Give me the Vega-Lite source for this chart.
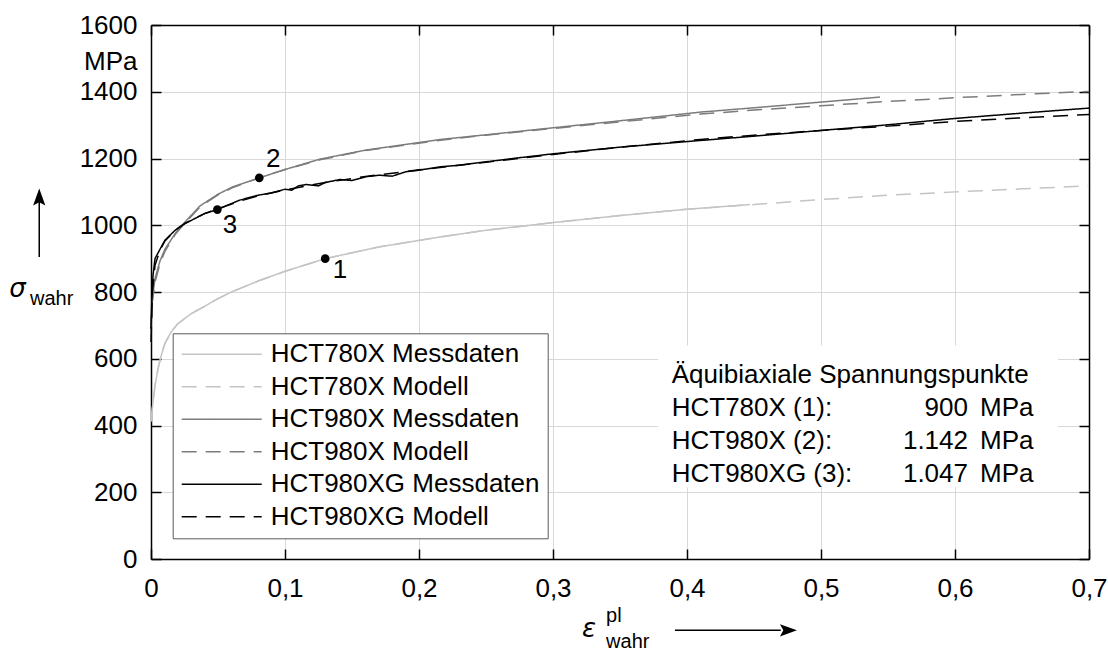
{
  "$schema": "https://vega.github.io/schema/vega-lite/v6.json",
  "width": 938,
  "height": 534,
  "autosize": {"type": "none"},
  "padding": {"left": 151, "top": 25, "right": 19, "bottom": 92},
  "config": {
    "view": {"stroke": null},
    "font": "Liberation Sans",
    "axis": {
      "domainColor": "#000000",
      "domainWidth": 1.5,
      "tickColor": "#000000",
      "tickWidth": 1.5,
      "tickSize": -10,
      "labelFont": "Liberation Sans",
      "labelFontSize": 26,
      "labelColor": "#000000",
      "gridColor": "#d9d9d9",
      "gridWidth": 1,
      "labelFlush": false,
      "labelOverlap": false
    }
  },
  "datasets": {
    "curves": [
      {"e": 0, "s": 412, "series": "HCT780X Messdaten"},
      {"e": 0.0015, "s": 470, "series": "HCT780X Messdaten"},
      {"e": 0.003, "s": 520, "series": "HCT780X Messdaten"},
      {"e": 0.0055, "s": 575, "series": "HCT780X Messdaten"},
      {"e": 0.008, "s": 615, "series": "HCT780X Messdaten"},
      {"e": 0.0104, "s": 646, "series": "HCT780X Messdaten"},
      {"e": 0.015, "s": 680, "series": "HCT780X Messdaten"},
      {"e": 0.02, "s": 705, "series": "HCT780X Messdaten"},
      {"e": 0.03, "s": 735, "series": "HCT780X Messdaten"},
      {"e": 0.04, "s": 757, "series": "HCT780X Messdaten"},
      {"e": 0.05, "s": 780, "series": "HCT780X Messdaten"},
      {"e": 0.06, "s": 800, "series": "HCT780X Messdaten"},
      {"e": 0.08, "s": 833, "series": "HCT780X Messdaten"},
      {"e": 0.1, "s": 862, "series": "HCT780X Messdaten"},
      {"e": 0.13, "s": 900, "series": "HCT780X Messdaten"},
      {"e": 0.17, "s": 935, "series": "HCT780X Messdaten"},
      {"e": 0.216, "s": 965, "series": "HCT780X Messdaten"},
      {"e": 0.25, "s": 985, "series": "HCT780X Messdaten"},
      {"e": 0.3, "s": 1008, "series": "HCT780X Messdaten"},
      {"e": 0.35, "s": 1029, "series": "HCT780X Messdaten"},
      {"e": 0.4, "s": 1048, "series": "HCT780X Messdaten"},
      {"e": 0.447, "s": 1062, "series": "HCT780X Messdaten"},

      {"e": 0, "s": 412, "series": "HCT780X Modell"},
      {"e": 0.0015, "s": 470, "series": "HCT780X Modell"},
      {"e": 0.003, "s": 520, "series": "HCT780X Modell"},
      {"e": 0.0055, "s": 575, "series": "HCT780X Modell"},
      {"e": 0.008, "s": 615, "series": "HCT780X Modell"},
      {"e": 0.0104, "s": 646, "series": "HCT780X Modell"},
      {"e": 0.015, "s": 680, "series": "HCT780X Modell"},
      {"e": 0.02, "s": 705, "series": "HCT780X Modell"},
      {"e": 0.03, "s": 735, "series": "HCT780X Modell"},
      {"e": 0.04, "s": 757, "series": "HCT780X Modell"},
      {"e": 0.05, "s": 780, "series": "HCT780X Modell"},
      {"e": 0.06, "s": 800, "series": "HCT780X Modell"},
      {"e": 0.08, "s": 833, "series": "HCT780X Modell"},
      {"e": 0.1, "s": 862, "series": "HCT780X Modell"},
      {"e": 0.13, "s": 900, "series": "HCT780X Modell"},
      {"e": 0.17, "s": 935, "series": "HCT780X Modell"},
      {"e": 0.216, "s": 965, "series": "HCT780X Modell"},
      {"e": 0.25, "s": 985, "series": "HCT780X Modell"},
      {"e": 0.3, "s": 1008, "series": "HCT780X Modell"},
      {"e": 0.35, "s": 1029, "series": "HCT780X Modell"},
      {"e": 0.4, "s": 1048, "series": "HCT780X Modell"},
      {"e": 0.45, "s": 1062, "series": "HCT780X Modell"},
      {"e": 0.5, "s": 1077, "series": "HCT780X Modell"},
      {"e": 0.55, "s": 1090, "series": "HCT780X Modell"},
      {"e": 0.6, "s": 1100, "series": "HCT780X Modell"},
      {"e": 0.65, "s": 1109, "series": "HCT780X Modell"},
      {"e": 0.7, "s": 1118, "series": "HCT780X Modell"},

      {"e": 0, "s": 700, "series": "HCT980X Messdaten"},
      {"e": 0.001, "s": 780, "series": "HCT980X Messdaten"},
      {"e": 0.003, "s": 840, "series": "HCT980X Messdaten"},
      {"e": 0.0067, "s": 893, "series": "HCT980X Messdaten"},
      {"e": 0.0104, "s": 928, "series": "HCT980X Messdaten"},
      {"e": 0.018, "s": 975, "series": "HCT980X Messdaten"},
      {"e": 0.025, "s": 1008, "series": "HCT980X Messdaten"},
      {"e": 0.0366, "s": 1058, "series": "HCT980X Messdaten"},
      {"e": 0.05, "s": 1093, "series": "HCT980X Messdaten"},
      {"e": 0.061, "s": 1115, "series": "HCT980X Messdaten"},
      {"e": 0.0808, "s": 1142, "series": "HCT980X Messdaten"},
      {"e": 0.1, "s": 1167, "series": "HCT980X Messdaten"},
      {"e": 0.126, "s": 1198, "series": "HCT980X Messdaten"},
      {"e": 0.16, "s": 1225, "series": "HCT980X Messdaten"},
      {"e": 0.216, "s": 1257, "series": "HCT980X Messdaten"},
      {"e": 0.25, "s": 1271, "series": "HCT980X Messdaten"},
      {"e": 0.3, "s": 1292, "series": "HCT980X Messdaten"},
      {"e": 0.35, "s": 1313, "series": "HCT980X Messdaten"},
      {"e": 0.41, "s": 1339, "series": "HCT980X Messdaten"},
      {"e": 0.45, "s": 1352, "series": "HCT980X Messdaten"},
      {"e": 0.5, "s": 1369, "series": "HCT980X Messdaten"},
      {"e": 0.544, "s": 1384, "series": "HCT980X Messdaten"},

      {"e": 0, "s": 690, "series": "HCT980X Modell"},
      {"e": 0.001, "s": 770, "series": "HCT980X Modell"},
      {"e": 0.003, "s": 830, "series": "HCT980X Modell"},
      {"e": 0.0067, "s": 885, "series": "HCT980X Modell"},
      {"e": 0.0104, "s": 922, "series": "HCT980X Modell"},
      {"e": 0.018, "s": 972, "series": "HCT980X Modell"},
      {"e": 0.025, "s": 1005, "series": "HCT980X Modell"},
      {"e": 0.0366, "s": 1055, "series": "HCT980X Modell"},
      {"e": 0.05, "s": 1091, "series": "HCT980X Modell"},
      {"e": 0.061, "s": 1113, "series": "HCT980X Modell"},
      {"e": 0.0808, "s": 1142, "series": "HCT980X Modell"},
      {"e": 0.1, "s": 1167, "series": "HCT980X Modell"},
      {"e": 0.126, "s": 1196, "series": "HCT980X Modell"},
      {"e": 0.16, "s": 1224, "series": "HCT980X Modell"},
      {"e": 0.216, "s": 1255, "series": "HCT980X Modell"},
      {"e": 0.25, "s": 1270, "series": "HCT980X Modell"},
      {"e": 0.3, "s": 1290, "series": "HCT980X Modell"},
      {"e": 0.35, "s": 1310, "series": "HCT980X Modell"},
      {"e": 0.41, "s": 1333, "series": "HCT980X Modell"},
      {"e": 0.45, "s": 1345, "series": "HCT980X Modell"},
      {"e": 0.5, "s": 1358, "series": "HCT980X Modell"},
      {"e": 0.55, "s": 1371, "series": "HCT980X Modell"},
      {"e": 0.6, "s": 1382, "series": "HCT980X Modell"},
      {"e": 0.65, "s": 1392, "series": "HCT980X Modell"},
      {"e": 0.7, "s": 1401, "series": "HCT980X Modell"},

      {"e": 0, "s": 690, "series": "HCT980XG Messdaten"},
      {"e": 0.0005, "s": 760, "series": "HCT980XG Messdaten"},
      {"e": 0.0015, "s": 850, "series": "HCT980XG Messdaten"},
      {"e": 0.003, "s": 900, "series": "HCT980XG Messdaten"},
      {"e": 0.0067, "s": 928, "series": "HCT980XG Messdaten"},
      {"e": 0.0104, "s": 955, "series": "HCT980XG Messdaten"},
      {"e": 0.018, "s": 985, "series": "HCT980XG Messdaten"},
      {"e": 0.0254, "s": 1005, "series": "HCT980XG Messdaten"},
      {"e": 0.04, "s": 1035, "series": "HCT980XG Messdaten"},
      {"e": 0.0495, "s": 1047, "series": "HCT980XG Messdaten"},
      {"e": 0.066, "s": 1075, "series": "HCT980XG Messdaten"},
      {"e": 0.08, "s": 1090, "series": "HCT980XG Messdaten"},
      {"e": 0.09, "s": 1097, "series": "HCT980XG Messdaten"},
      {"e": 0.1, "s": 1108, "series": "HCT980XG Messdaten"},
      {"e": 0.105, "s": 1105, "series": "HCT980XG Messdaten"},
      {"e": 0.11, "s": 1118, "series": "HCT980XG Messdaten"},
      {"e": 0.116, "s": 1122, "series": "HCT980XG Messdaten"},
      {"e": 0.125, "s": 1118, "series": "HCT980XG Messdaten"},
      {"e": 0.13, "s": 1128, "series": "HCT980XG Messdaten"},
      {"e": 0.141, "s": 1137, "series": "HCT980XG Messdaten"},
      {"e": 0.15, "s": 1134, "series": "HCT980XG Messdaten"},
      {"e": 0.16, "s": 1145, "series": "HCT980XG Messdaten"},
      {"e": 0.17, "s": 1150, "series": "HCT980XG Messdaten"},
      {"e": 0.18, "s": 1147, "series": "HCT980XG Messdaten"},
      {"e": 0.19, "s": 1160, "series": "HCT980XG Messdaten"},
      {"e": 0.2, "s": 1165, "series": "HCT980XG Messdaten"},
      {"e": 0.216, "s": 1175, "series": "HCT980XG Messdaten"},
      {"e": 0.23, "s": 1180, "series": "HCT980XG Messdaten"},
      {"e": 0.25, "s": 1190, "series": "HCT980XG Messdaten"},
      {"e": 0.27, "s": 1200, "series": "HCT980XG Messdaten"},
      {"e": 0.3, "s": 1214, "series": "HCT980XG Messdaten"},
      {"e": 0.35, "s": 1234, "series": "HCT980XG Messdaten"},
      {"e": 0.41, "s": 1254, "series": "HCT980XG Messdaten"},
      {"e": 0.45, "s": 1267, "series": "HCT980XG Messdaten"},
      {"e": 0.5, "s": 1284, "series": "HCT980XG Messdaten"},
      {"e": 0.55, "s": 1301, "series": "HCT980XG Messdaten"},
      {"e": 0.6, "s": 1320, "series": "HCT980XG Messdaten"},
      {"e": 0.65, "s": 1336, "series": "HCT980XG Messdaten"},
      {"e": 0.7, "s": 1351, "series": "HCT980XG Messdaten"},

      {"e": 0, "s": 650, "series": "HCT980XG Modell"},
      {"e": 0.001, "s": 800, "series": "HCT980XG Modell"},
      {"e": 0.003, "s": 880, "series": "HCT980XG Modell"},
      {"e": 0.0067, "s": 925, "series": "HCT980XG Modell"},
      {"e": 0.0104, "s": 953, "series": "HCT980XG Modell"},
      {"e": 0.018, "s": 985, "series": "HCT980XG Modell"},
      {"e": 0.0254, "s": 1006, "series": "HCT980XG Modell"},
      {"e": 0.04, "s": 1035, "series": "HCT980XG Modell"},
      {"e": 0.0495, "s": 1049, "series": "HCT980XG Modell"},
      {"e": 0.066, "s": 1072, "series": "HCT980XG Modell"},
      {"e": 0.08, "s": 1088, "series": "HCT980XG Modell"},
      {"e": 0.1, "s": 1106, "series": "HCT980XG Modell"},
      {"e": 0.13, "s": 1128, "series": "HCT980XG Modell"},
      {"e": 0.16, "s": 1146, "series": "HCT980XG Modell"},
      {"e": 0.2, "s": 1166, "series": "HCT980XG Modell"},
      {"e": 0.25, "s": 1189, "series": "HCT980XG Modell"},
      {"e": 0.3, "s": 1212, "series": "HCT980XG Modell"},
      {"e": 0.35, "s": 1234, "series": "HCT980XG Modell"},
      {"e": 0.41, "s": 1257, "series": "HCT980XG Modell"},
      {"e": 0.45, "s": 1270, "series": "HCT980XG Modell"},
      {"e": 0.5, "s": 1284, "series": "HCT980XG Modell"},
      {"e": 0.55, "s": 1297, "series": "HCT980XG Modell"},
      {"e": 0.6, "s": 1311, "series": "HCT980XG Modell"},
      {"e": 0.65, "s": 1322, "series": "HCT980XG Modell"},
      {"e": 0.7, "s": 1332, "series": "HCT980XG Modell"}
    ],
    "points": [
      {"e": 0.13, "s": 900, "nr": "1", "le": 0.141, "ls": 865},
      {"e": 0.0808, "s": 1142, "nr": "2", "le": 0.0913, "ls": 1200},
      {"e": 0.0495, "s": 1047, "nr": "3", "le": 0.059, "ls": 1000}
    ],
    "box": [{"e": 0.3784, "e2": 0.6769, "s": 215, "s2": 640}],
    "blockLeft": [
      {"e": 0.3886, "s": 550, "t": "Äquibiaxiale Spannungspunkte"},
      {"e": 0.3886, "s": 452, "t": "HCT780X (1):"},
      {"e": 0.3886, "s": 354, "t": "HCT980X (2):"},
      {"e": 0.3886, "s": 256, "t": "HCT980XG (3):"}
    ],
    "blockValues": [
      {"e": 0.6097, "s": 452, "t": "900"},
      {"e": 0.6097, "s": 354, "t": "1.142"},
      {"e": 0.6097, "s": 256, "t": "1.047"}
    ],
    "blockUnits": [
      {"e": 0.6187, "s": 452, "t": "MPa"},
      {"e": 0.6187, "s": 354, "t": "MPa"},
      {"e": 0.6187, "s": 256, "t": "MPa"}
    ],
    "mainSymbols": [
      {"e": -0.0997, "s": 784, "t": "σ"},
      {"e": 0.3269, "s": -235, "t": "ε"}
    ],
    "subTexts": [
      {"e": -0.0903, "s": 762, "t": "wahr"},
      {"e": 0.3396, "s": -189, "t": "pl"},
      {"e": 0.3396, "s": -268, "t": "wahr"}
    ],
    "arrowLines": [
      {"e": -0.0834, "e2": -0.0834, "s": 905, "s2": 1075},
      {"e": 0.391, "e2": 0.47, "s": -213.6, "s2": -213.6}
    ],
    "arrowUp": [{"e": -0.0834, "s": 1069}],
    "arrowRight": [{"e": 0.4719, "s": -213.6}]
  },
  "layer": [
    {
      "data": {"name": "box"},
      "mark": {"type": "rect", "fill": "#ffffff", "stroke": null},
      "encoding": {
        "x": {"field": "e", "type": "quantitative", "scale": {"domain": [0, 0.7], "nice": false, "zero": false}, "axis": null},
        "x2": {"field": "e2"},
        "y": {"field": "s", "type": "quantitative", "scale": {"domain": [0, 1600], "nice": false}, "axis": null},
        "y2": {"field": "s2"}
      }
    },
    {
      "data": {"name": "curves"},
      "mark": {"type": "line", "strokeWidth": 1.5},
      "encoding": {
        "x": {
          "field": "e", "type": "quantitative",
          "scale": {"domain": [0, 0.7], "nice": false, "zero": false},
          "axis": {
            "orient": "bottom", "title": null, "grid": true,
            "values": [0, 0.1, 0.2, 0.3, 0.4, 0.5, 0.6, 0.7],
            "labelExpr": "datum.value == 0 ? '0' : replace(format(datum.value, '.1f'), '.', ',')",
            "labelPadding": 26
          }
        },
        "y": {
          "field": "s", "type": "quantitative",
          "scale": {"domain": [0, 1600], "nice": false},
          "axis": {
            "orient": "left", "title": null, "grid": true,
            "values": [0, 200, 400, 600, 800, 1000, 1200, 1400, 1490, 1600],
            "format": "d",
            "labelExpr": "datum.value == 1490 ? 'MPa' : datum.label",
            "labelPadding": 24,
            "tickOpacity": {"condition": {"test": "datum.value == 1490", "value": 0}, "value": 1},
            "gridOpacity": {"condition": {"test": "datum.value == 1490", "value": 0}, "value": 1}
          }
        },
        "color": {
          "field": "series", "type": "nominal",
          "scale": {
            "domain": ["HCT780X Messdaten", "HCT780X Modell", "HCT980X Messdaten", "HCT980X Modell", "HCT980XG Messdaten", "HCT980XG Modell"],
            "range": ["#c4c4c4", "#c4c4c4", "#7c7c7c", "#7c7c7c", "#000000", "#000000"]
          },
          "legend": {
            "orient": "none", "legendX": 21.7, "legendY": 308.3, "title": null,
            "symbolType": "stroke", "symbolSize": 6400, "symbolStrokeWidth": 1.5,
            "labelFont": "Liberation Sans", "labelFontSize": 26, "labelColor": "#000000",
            "labelOffset": 8, "clipHeight": 26, "rowPadding": 6.5, "padding": 8,
            "strokeColor": "#5a5a5a", "fillColor": "#ffffff", "labelLimit": 0
          }
        },
        "strokeDash": {
          "field": "series", "type": "nominal",
          "scale": {
            "domain": ["HCT780X Messdaten", "HCT780X Modell", "HCT980X Messdaten", "HCT980X Modell", "HCT980XG Messdaten", "HCT980XG Modell"],
            "range": [[1, 0], [15, 9], [1, 0], [15, 9], [1, 0], [15, 9]]
          },
          "legend": {
            "orient": "none", "legendX": 21.7, "legendY": 308.3, "title": null,
            "symbolType": "stroke", "symbolSize": 6400, "symbolStrokeWidth": 1.5,
            "labelFont": "Liberation Sans", "labelFontSize": 26, "labelColor": "#000000",
            "labelOffset": 8, "clipHeight": 26, "rowPadding": 6.5, "padding": 8,
            "strokeColor": "#5a5a5a", "fillColor": "#ffffff", "labelLimit": 0
          }
        }
      }
    },
    {
      "data": {"name": "points"},
      "mark": {"type": "point", "filled": true, "color": "#000000", "size": 75, "opacity": 1},
      "encoding": {
        "x": {
          "field": "e", "type": "quantitative",
          "scale": {"domain": [0, 0.7], "nice": false, "zero": false},
          "axis": {"orient": "top", "title": null, "grid": false, "labels": false, "values": [0, 0.1, 0.2, 0.3, 0.4, 0.5, 0.6, 0.7]}
        },
        "y": {
          "field": "s", "type": "quantitative",
          "scale": {"domain": [0, 1600], "nice": false},
          "axis": {"orient": "right", "title": null, "grid": false, "labels": false, "values": [0, 200, 400, 600, 800, 1000, 1200, 1400, 1600]}
        }
      }
    },
    {
      "data": {"name": "points"},
      "mark": {"type": "text", "fontSize": 26, "font": "Liberation Sans", "align": "center", "baseline": "middle", "color": "#000000"},
      "encoding": {
        "x": {"field": "le", "type": "quantitative", "axis": null},
        "y": {"field": "ls", "type": "quantitative", "axis": null},
        "text": {"field": "nr"}
      }
    },
    {
      "data": {"name": "blockLeft"},
      "mark": {"type": "text", "fontSize": 26, "font": "Liberation Sans", "align": "left", "baseline": "middle", "color": "#000000"},
      "encoding": {
        "x": {"field": "e", "type": "quantitative", "axis": null},
        "y": {"field": "s", "type": "quantitative", "axis": null},
        "text": {"field": "t"}
      }
    },
    {
      "data": {"name": "blockValues"},
      "mark": {"type": "text", "fontSize": 26, "font": "Liberation Sans", "align": "right", "baseline": "middle", "color": "#000000"},
      "encoding": {
        "x": {"field": "e", "type": "quantitative", "axis": null},
        "y": {"field": "s", "type": "quantitative", "axis": null},
        "text": {"field": "t"}
      }
    },
    {
      "data": {"name": "blockUnits"},
      "mark": {"type": "text", "fontSize": 26, "font": "Liberation Sans", "align": "left", "baseline": "middle", "color": "#000000"},
      "encoding": {
        "x": {"field": "e", "type": "quantitative", "axis": null},
        "y": {"field": "s", "type": "quantitative", "axis": null},
        "text": {"field": "t"}
      }
    },
    {
      "data": {"name": "mainSymbols"},
      "mark": {"type": "text", "fontSize": 26, "font": "DejaVu Sans", "fontStyle": "italic", "align": "center", "baseline": "alphabetic", "color": "#000000"},
      "encoding": {
        "x": {"field": "e", "type": "quantitative", "axis": null},
        "y": {"field": "s", "type": "quantitative", "axis": null},
        "text": {"field": "t"}
      }
    },
    {
      "data": {"name": "subTexts"},
      "mark": {"type": "text", "fontSize": 20, "font": "Liberation Sans", "align": "left", "baseline": "alphabetic", "color": "#000000"},
      "encoding": {
        "x": {"field": "e", "type": "quantitative", "axis": null},
        "y": {"field": "s", "type": "quantitative", "axis": null},
        "text": {"field": "t"}
      }
    },
    {
      "data": {"name": "arrowLines"},
      "mark": {"type": "rule", "strokeWidth": 1.5, "color": "#000000"},
      "encoding": {
        "x": {"field": "e", "type": "quantitative", "axis": null},
        "x2": {"field": "e2"},
        "y": {"field": "s", "type": "quantitative", "axis": null},
        "y2": {"field": "s2"}
      }
    },
    {
      "data": {"name": "arrowUp"},
      "mark": {"type": "point", "filled": true, "color": "#000000", "opacity": 1, "size": 740, "shape": "M0,-1L0.45,0.25L0,0L-0.45,0.25Z"},
      "encoding": {
        "x": {"field": "e", "type": "quantitative", "axis": null},
        "y": {"field": "s", "type": "quantitative", "axis": null}
      }
    },
    {
      "data": {"name": "arrowRight"},
      "mark": {"type": "point", "filled": true, "color": "#000000", "opacity": 1, "size": 740, "shape": "M1,0L-0.25,0.45L0,0L-0.25,-0.45Z"},
      "encoding": {
        "x": {"field": "e", "type": "quantitative", "axis": null},
        "y": {"field": "s", "type": "quantitative", "axis": null}
      }
    }
  ],
  "resolve": {"axis": {"x": "independent", "y": "independent"}}
}
